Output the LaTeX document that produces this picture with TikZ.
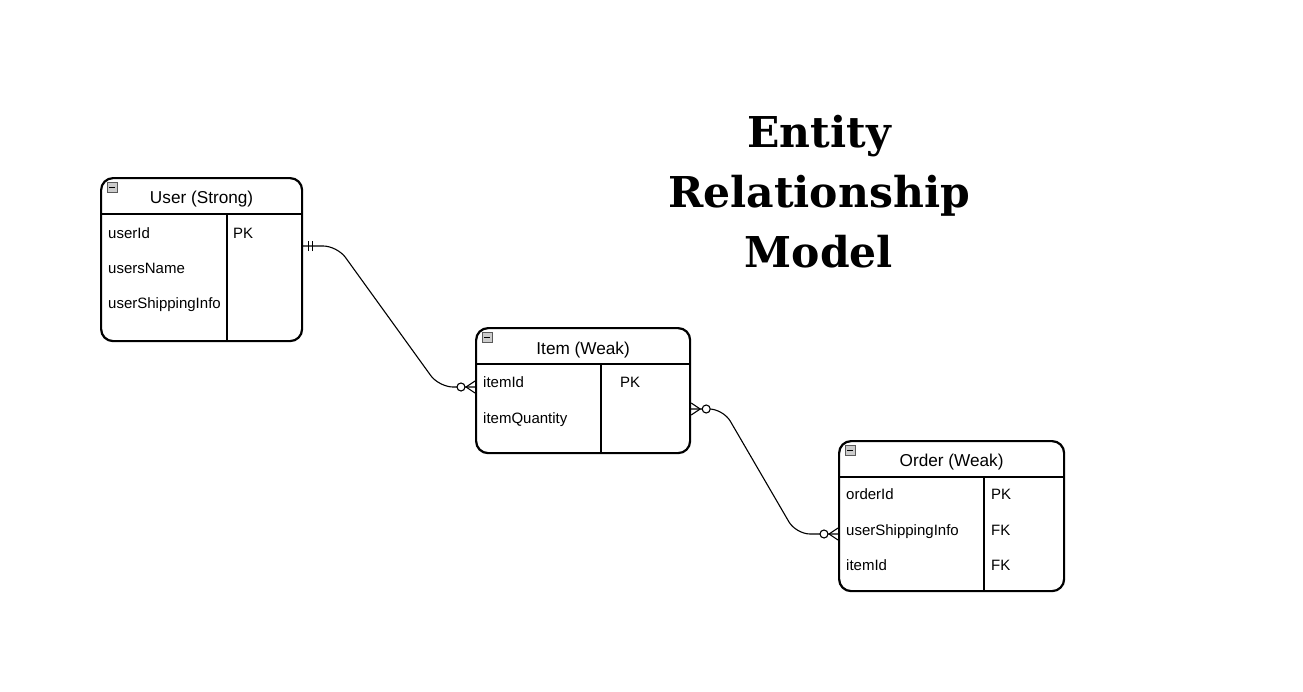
\documentclass[tikz,border=0pt]{standalone}
\usepackage{fontspec}
\setmainfont{Liberation Sans}
\newfontfamily\titlefont{DejaVu Serif}
\usetikzlibrary{positioning}

\tikzset{
  entity/.style={draw, rectangle, rounded corners=12pt, line width=2.2pt, anchor=north west, inner sep=0pt},
  headline/.style={line width=2pt},
  divider/.style={line width=1.3pt},
  headtext/.style={font=\fontsize{17.2}{20}\selectfont, inner sep=0pt, anchor=base},
  attr/.style={font=\fontsize{15}{18}\selectfont, anchor=base west, inner sep=0pt},
  fold/.style={draw=gray!70!black, fill=gray!40, minimum size=10pt, inner sep=0pt, line width=0.6pt, anchor=north west},
  rel/.style={line width=1.1pt, rounded corners=14pt},
  relend/.style={line width=1.1pt},
  optional/.style={draw, fill=white, line width=1.1pt, circle, minimum size=8pt, inner sep=0pt}
}

\begin{document}
\begin{tikzpicture}[x=1pt, y=-1pt]
\useasboundingbox[fill=white] (0,0) rectangle (1303,691);

% title
\node[font=\titlefont\bfseries\fontsize{42.5}{60}\selectfont, align=center] (title) at (819,192) {Entity\\Relationship\\Model};

% User
\node[entity, minimum width=201pt, minimum height=163pt] (user) at (100,177) {};
\draw[headline] ([yshift=-37pt]user.north west) -- ([yshift=-37pt]user.north east);
\draw[divider] ([xshift=127pt, yshift=-37pt]user.north west) -- ([xshift=127pt]user.south west);
\node[fold] (userfold) at (107,182) {};
\draw[line width=1pt] ([xshift=-3pt]userfold.center) -- ([xshift=3pt]userfold.center);
\node[headtext] (userhead) at ([yshift=-26pt]user.north) {User (Strong)};
\node[attr] (userid) at ([xshift=8pt, yshift=-61.5pt]user.north west) {userId};
\node[attr] (usersname) at ([yshift=-35pt]userid.base west) {usersName};
\node[attr] (usership) at ([yshift=-35pt]usersname.base west) {userShippingInfo};
\node[attr] (userpk) at ([xshift=133pt, yshift=-61.5pt]user.north west) {PK};

% Item
\node[entity, minimum width=214pt, minimum height=125pt] (item) at (475,327) {};
\draw[headline] ([yshift=-37pt]item.north west) -- ([yshift=-37pt]item.north east);
\draw[divider] ([xshift=126pt, yshift=-37pt]item.north west) -- ([xshift=126pt]item.south west);
\node[fold] (itemfold) at (482,332) {};
\draw[line width=1pt] ([xshift=-3pt]itemfold.center) -- ([xshift=3pt]itemfold.center);
\node[headtext] (itemhead) at ([yshift=-27pt]item.north) {Item (Weak)};
\node[attr] (itemid) at ([xshift=8pt, yshift=-60.5pt]item.north west) {itemId};
\node[attr] (itemqty) at ([yshift=-36pt]itemid.base west) {itemQuantity};
\node[attr] (itempk) at ([xshift=145pt, yshift=-60.5pt]item.north west) {PK};

% Order
\node[entity, minimum width=225pt, minimum height=150pt] (order) at (838,440) {};
\draw[headline] ([yshift=-37pt]order.north west) -- ([yshift=-37pt]order.north east);
\draw[divider] ([xshift=146pt, yshift=-37pt]order.north west) -- ([xshift=146pt]order.south west);
\node[fold] (orderfold) at (845,445) {};
\draw[line width=1pt] ([xshift=-3pt]orderfold.center) -- ([xshift=3pt]orderfold.center);
\node[headtext] (orderhead) at ([yshift=-26pt]order.north) {Order (Weak)};
\node[attr] (orderid) at ([xshift=8pt, yshift=-59.5pt]order.north west) {orderId};
\node[attr] (ordership) at ([yshift=-36pt]orderid.base west) {userShippingInfo};
\node[attr] (orderitem) at ([yshift=-35pt]ordership.base west) {itemId};
\node[attr] (orderpk) at ([xshift=153pt, yshift=-59.5pt]order.north west) {PK};
\node[attr] (orderfk1) at ([yshift=-36pt]orderpk.base west) {FK};
\node[attr] (orderfk2) at ([yshift=-35pt]orderfk1.base west) {FK};

% User -> Item
\coordinate (useritem1) at ([yshift=-69pt]user.north east);
\coordinate (useritem2) at ([yshift=-60pt]item.north west);
\draw[rel] (useritem1) -- ++(34,0) -- ([xshift=-36pt]useritem2) -- (useritem2);
\draw[relend] ([xshift=5pt, yshift=-5pt]useritem1) -- ([xshift=5pt, yshift=5pt]useritem1);
\draw[relend] ([xshift=9pt, yshift=-5pt]useritem1) -- ([xshift=9pt, yshift=5pt]useritem1);
\draw[relend] ([xshift=-9pt]useritem2) -- ([yshift=-6pt]useritem2);
\draw[relend] ([xshift=-9pt]useritem2) -- ([yshift=6pt]useritem2);
\node[optional] (useritemo) at ([xshift=-14pt]useritem2) {};

% Item -> Order
\coordinate (itemorder1) at ([yshift=-82pt]item.north east);
\coordinate (itemorder2) at ([yshift=-94pt]order.north west);
\draw[rel] (itemorder1) -- ++(32,0) -- ([xshift=-42pt]itemorder2) -- (itemorder2);
\draw[relend] ([xshift=9pt]itemorder1) -- ([yshift=-6pt]itemorder1);
\draw[relend] ([xshift=9pt]itemorder1) -- ([yshift=6pt]itemorder1);
\node[optional] (itemordero1) at ([xshift=15pt]itemorder1) {};
\draw[relend] ([xshift=-9pt]itemorder2) -- ([yshift=-6pt]itemorder2);
\draw[relend] ([xshift=-9pt]itemorder2) -- ([yshift=6pt]itemorder2);
\node[optional] (itemordero2) at ([xshift=-14pt]itemorder2) {};
\end{tikzpicture}
\end{document}
